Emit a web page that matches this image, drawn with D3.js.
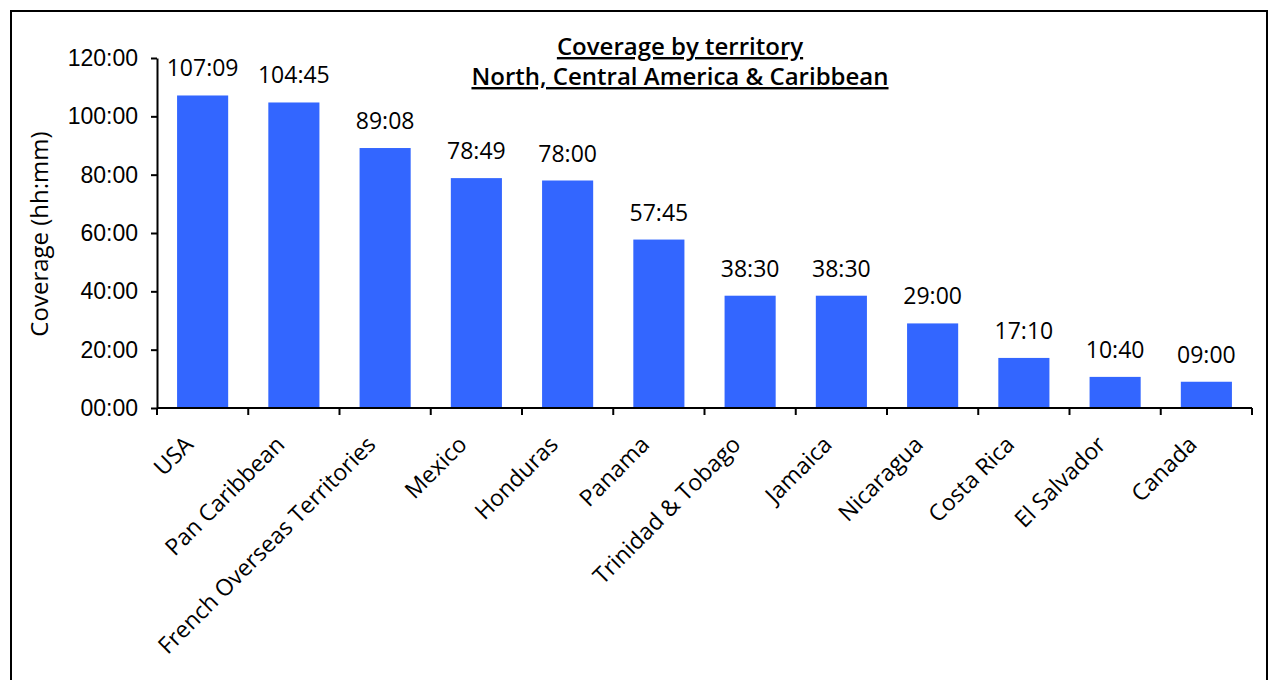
<!DOCTYPE html>
<html><head><meta charset="utf-8">
<script src="https://cdn.jsdelivr.net/npm/d3@7"></script>
<style>
body{margin:0;background:#fff;}
svg{display:block;font-family:"Open Sans","Noto Sans",sans-serif;}
</style></head>
<body>
<svg id="chart" width="1272" height="680"></svg>
<script>
const categories = ["USA","Pan Caribbean","French Overseas Territories","Mexico","Honduras","Panama","Trinidad & Tobago","Jamaica","Nicaragua","Costa Rica","El Salvador","Canada"];
const coverage = ["107:09","104:45","89:08","78:49","78:00","57:45","38:30","38:30","29:00","17:10","10:40","09:00"];
const yTicks = [0,20,40,60,80,100,120];
const titleLines = ["Coverage by territory","North, Central America & Caribbean"];
const yAxisTitle = "Coverage (hh:mm)";

(function(){
const toHours = s => { const [h,m] = s.split(":").map(Number); return h + m/60; };
const fmt = v => { const h = Math.floor(v), m = Math.round((v-h)*60); return String(h).padStart(2,"0")+":"+String(m).padStart(2,"0"); };
const data = categories.map((c,i)=>({cat:c, label:coverage[i], value:toHours(coverage[i])}));
const FS = 23;

const svg = d3.select("#chart");
svg.append("rect").attr("x",11).attr("y",11).attr("width",1256).attr("height",700)
  .attr("fill","none").attr("stroke","#000").attr("stroke-width",2);

const pl=157, pr=1252, pt=58, pb=408;
const x = d3.scaleBand().domain(categories).range([pl,pr]).paddingInner(0.44).paddingOuter(0.22);
const y = d3.scaleLinear().domain([0,120]).range([pb,pt]);

svg.selectAll("rect.bar").data(data).enter().append("rect").attr("class","bar")
  .attr("x",d=>x(d.cat)).attr("width",x.bandwidth())
  .attr("y",d=>y(d.value)).attr("height",d=>y(0)-y(d.value))
  .attr("fill","#3366FF");

svg.selectAll("text.val").data(data).enter().append("text").attr("class","val")
  .attr("x",d=>x(d.cat)+x.bandwidth()/2).attr("y",d=>y(d.value)-19)
  .attr("text-anchor","middle").attr("font-size",FS).attr("fill","#000").text(d=>d.label);

const yAxis = svg.append("g").attr("transform",`translate(${pl},0)`)
  .call(d3.axisLeft(y).tickValues(yTicks).tickFormat(fmt).tickSize(6).tickSizeOuter(0).tickPadding(13));
yAxis.select(".domain").attr("stroke-width",2);
yAxis.selectAll(".tick line").attr("stroke-width",2);
yAxis.selectAll("text").attr("font-size",FS).attr("fill","#000").attr("font-family","inherit");

const bounds = d3.range(categories.length+1).map(i=>pl+i*(pr-pl)/categories.length);
const xg = svg.append("g");
xg.append("line").attr("x1",pl).attr("x2",pr).attr("y1",pb).attr("y2",pb).attr("stroke","#000").attr("stroke-width",2);
xg.selectAll("line.t").data(bounds).enter().append("line").attr("class","t")
  .attr("x1",d=>d).attr("x2",d=>d).attr("y1",pb).attr("y2",pb+7).attr("stroke","#000").attr("stroke-width",2);

svg.selectAll("text.cat").data(data).enter().append("text").attr("class","cat")
  .attr("transform",d=>`translate(${x(d.cat)+x.bandwidth()/2-8},${pb+38}) rotate(-45)`)
  .attr("text-anchor","end").attr("font-size",FS).attr("fill","#000").text(d=>d.cat);

svg.append("text").attr("transform",`translate(48,${(pt+pb)/2+1}) rotate(-90)`)
  .attr("text-anchor","middle").attr("font-size",24).attr("fill","#000").text(yAxisTitle);

titleLines.forEach((t,i)=>{
  svg.append("text").attr("x",680).attr("y",55+i*30).attr("text-anchor","middle")
    .attr("font-size",24).attr("font-weight",600).attr("text-decoration","underline").attr("fill","#000").text(t);
});
})();
</script>
</body></html>
